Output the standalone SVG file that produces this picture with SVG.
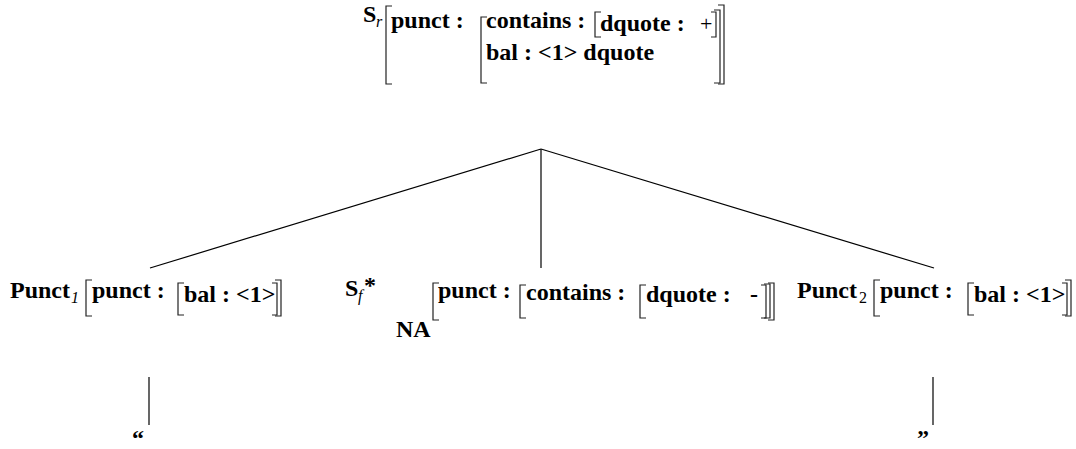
<svg xmlns="http://www.w3.org/2000/svg" width="1076" height="449" viewBox="0 0 1076 449">
<style>
.t{font-family:"Liberation Serif","Times New Roman",serif;font-weight:bold;font-size:24px;fill:#000}
.s{font-family:"Liberation Serif","Times New Roman",serif;font-style:italic;font-size:16px;fill:#000}
.n{font-family:"Liberation Serif","Times New Roman",serif;font-size:22px;fill:#000}
.b{fill:none;stroke:#222;stroke-width:1.2}
.e{fill:none;stroke:#000;stroke-width:1.2}
</style>
<rect width="1076" height="449" fill="#fff"/>
<g id="connectors">
<line class="e" x1="541" y1="149" x2="150" y2="268"/>
<line class="e" x1="541" y1="149" x2="541" y2="268"/>
<line class="e" x1="541" y1="149" x2="934" y2="268"/>
<line class="e" x1="149" y1="377" x2="149" y2="425"/>
<line class="e" x1="933" y1="377" x2="933" y2="425"/>
</g>
<g id="root">
<text class="t" x="363" y="22">S</text>
<text class="s" x="376" y="27">r</text>
<path class="b" d="M392,6 H386 V84 H392"/>
<text class="t" x="391" y="28">punct :</text>
<path class="b" d="M487,17 H481 V83 H487"/>
<text class="t" x="486" y="28">contains :</text>
<path class="b" d="M601,12 H595 V37 H601"/>
<text class="t" x="600" y="31">dquote :</text>
<text class="n" x="700" y="31">+</text>
<path class="b" d="M711,12 H716 V37 H711"/>
<path class="b" d="M714,10 H720 V83 H714"/>
<path class="b" d="M718,5 H724 V84 H718"/>
<text class="t" x="486" y="60">bal : &lt;1&gt; dquote</text>
</g>
<g id="punct1">
<text class="t" x="10" y="298">Punct</text>
<text class="s" x="71" y="303">1</text>
<path class="b" d="M92,280 H86 V316 H92"/>
<text class="t" x="92" y="298">punct :</text>
<path class="b" d="M184,283 H178 V315 H184"/>
<text class="t" x="184" y="302">bal : &lt;1&gt;</text>
<path class="b" d="M272,283 H277 V315 H272"/>
<path class="b" d="M275,280 H281 V316 H275"/>
</g>
<g id="sf">
<text class="t" x="345" y="296">S</text>
<text class="s" x="358" y="301">f</text>
<text class="t" x="364" y="293">*</text>
<text class="t" x="396" y="337">NA</text>
<path class="b" d="M439,283 H433 V320 H439"/>
<text class="t" x="438" y="298">punct :</text>
<path class="b" d="M526,285 H520 V318 H526"/>
<text class="t" x="526" y="300">contains :</text>
<path class="b" d="M646,285 H640 V318 H646"/>
<text class="t" x="646" y="302">dquote :</text>
<text class="t" x="750" y="302">-</text>
<path class="b" d="M761,285 H766 V318 H761"/>
<path class="b" d="M764,284 H770 V318 H764"/>
<path class="b" d="M768,283 H774 V320 H768"/>
</g>
<g id="punct2">
<text class="t" x="797" y="298">Punct</text>
<text class="n" x="859" y="303" style="font-size:16px">2</text>
<path class="b" d="M880,280 H874 V316 H880"/>
<text class="t" x="880" y="298">punct :</text>
<path class="b" d="M974,283 H968 V315 H974"/>
<text class="t" x="974" y="302">bal : &lt;1&gt;</text>
<path class="b" d="M1062,283 H1067 V315 H1062"/>
<path class="b" d="M1065,280 H1071 V316 H1065"/>
</g>
<g id="q1"><text class="t" x="132" y="446">“</text></g>
<g id="q2"><text class="t" x="917" y="446">”</text></g>
</svg>
